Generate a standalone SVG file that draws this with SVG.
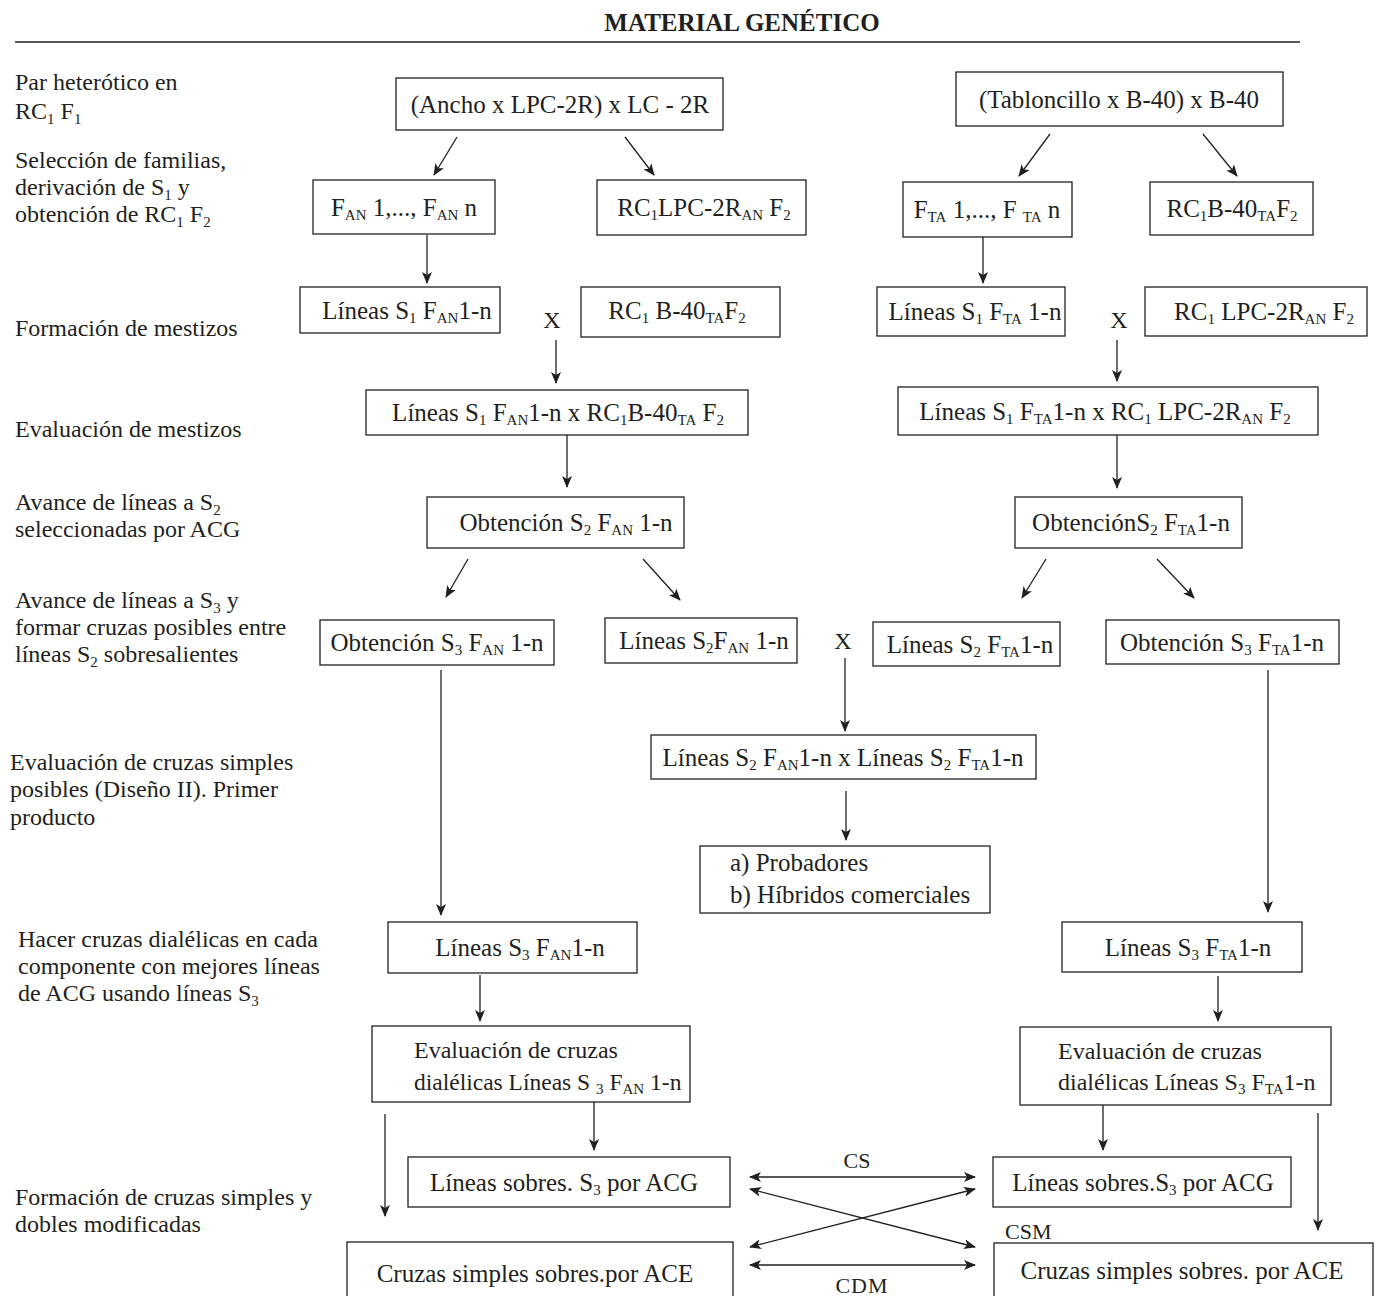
<svg xmlns="http://www.w3.org/2000/svg" width="1379" height="1296" viewBox="0 0 1379 1296">
<style>
text{font-family:"Liberation Serif","Times New Roman",serif;fill:#231f20}
.t{font-size:25px}
.e{font-size:24px}
.l{font-size:24px}
.c{text-anchor:middle}
.s{font-size:15px}
.m{font-size:22px}
rect{fill:#fff;stroke:#231f20;stroke-width:1.3}
line{stroke:#231f20;stroke-width:1.3}
</style>
<defs>
<marker id="ah" markerWidth="12" markerHeight="10" refX="11" refY="5" orient="auto" markerUnits="userSpaceOnUse">
<path d="M0,0 L12,5 L0,10 L3,5 Z" fill="#231f20"/>
</marker>
<marker id="as" markerWidth="12" markerHeight="10" refX="1" refY="5" orient="auto" markerUnits="userSpaceOnUse">
<path d="M12,0 L0,5 L12,10 L9,5 Z" fill="#231f20"/>
</marker>
</defs>
<rect x="0" y="0" width="1379" height="1296" style="stroke:none"/>

<g id="title">
<text x="742" y="31" class="c" style="font-size:25px;font-weight:bold">MATERIAL GENÉTICO</text>
<line x1="15" y1="42" x2="1300" y2="42"/>
</g>

<g id="labels">
<text x="15" y="90" class="l">Par heterótico en</text>
<text x="15" y="119" class="l">RC<tspan class="s" dy="5">1</tspan><tspan dy="-5"> F</tspan><tspan class="s" dy="5">1</tspan></text>
<text x="15" y="168" class="l">Selección de familias,</text>
<text x="15" y="195" class="l">derivación de S<tspan class="s" dy="5">1</tspan><tspan dy="-5"> y</tspan></text>
<text x="15" y="222" class="l">obtención de RC<tspan class="s" dy="5">1</tspan><tspan dy="-5"> F</tspan><tspan class="s" dy="5">2</tspan></text>
<text x="15" y="336" class="l">Formación de mestizos</text>
<text x="15" y="437" class="l">Evaluación de mestizos</text>
<text x="15" y="510" class="l">Avance de líneas a S<tspan class="s" dy="5">2</tspan></text>
<text x="15" y="537" class="l">seleccionadas por ACG</text>
<text x="15" y="608" class="l">Avance de líneas a S<tspan class="s" dy="5">3</tspan><tspan dy="-5"> y</tspan></text>
<text x="15" y="635" class="l">formar cruzas posibles entre</text>
<text x="15" y="662" class="l">líneas S<tspan class="s" dy="5">2</tspan><tspan dy="-5"> sobresalientes</tspan></text>
<text x="10" y="770" class="l">Evaluación de cruzas simples</text>
<text x="10" y="797" class="l">posibles (Diseño II). Primer</text>
<text x="10" y="825" class="l">producto</text>
<text x="18" y="947" class="l">Hacer cruzas dialélicas en cada</text>
<text x="18" y="974" class="l">componente con mejores líneas</text>
<text x="18" y="1001" class="l">de ACG usando líneas S<tspan class="s" dy="5">3</tspan></text>
<text x="15" y="1205" class="l">Formación de cruzas simples y</text>
<text x="15" y="1232" class="l">dobles modificadas</text>
</g>

<g id="connectors">
<line x1="457" y1="137" x2="434" y2="175" marker-end="url(#ah)"/>
<line x1="625" y1="137" x2="654" y2="175" marker-end="url(#ah)"/>
<line x1="1050" y1="134" x2="1019" y2="176" marker-end="url(#ah)"/>
<line x1="1203" y1="134" x2="1237" y2="176" marker-end="url(#ah)"/>
<line x1="427" y1="235" x2="427" y2="283" marker-end="url(#ah)"/>
<line x1="983" y1="237" x2="983" y2="283" marker-end="url(#ah)"/>
<line x1="556" y1="340" x2="556" y2="383" marker-end="url(#ah)"/>
<line x1="1117" y1="340" x2="1117" y2="381" marker-end="url(#ah)"/>
<line x1="567" y1="435" x2="567" y2="487" marker-end="url(#ah)"/>
<line x1="1117" y1="435" x2="1117" y2="488" marker-end="url(#ah)"/>
<line x1="468" y1="559" x2="446" y2="597" marker-end="url(#ah)"/>
<line x1="643" y1="559" x2="680" y2="600" marker-end="url(#ah)"/>
<line x1="1046" y1="559" x2="1022" y2="598" marker-end="url(#ah)"/>
<line x1="1157" y1="559" x2="1194" y2="598" marker-end="url(#ah)"/>
<line x1="845" y1="658" x2="845" y2="731" marker-end="url(#ah)"/>
<line x1="441" y1="670" x2="441" y2="915" marker-end="url(#ah)"/>
<line x1="1268" y1="670" x2="1268" y2="912" marker-end="url(#ah)"/>
<line x1="846" y1="791" x2="846" y2="840" marker-end="url(#ah)"/>
<line x1="480" y1="975" x2="480" y2="1021" marker-end="url(#ah)"/>
<line x1="1218" y1="976" x2="1218" y2="1021" marker-end="url(#ah)"/>
<line x1="594" y1="1102" x2="594" y2="1150" marker-end="url(#ah)"/>
<line x1="385" y1="1114" x2="385" y2="1216" marker-end="url(#ah)"/>
<line x1="1103" y1="1105" x2="1103" y2="1150" marker-end="url(#ah)"/>
<line x1="1318" y1="1113" x2="1318" y2="1230" marker-end="url(#ah)"/>
<line x1="750" y1="1177" x2="975" y2="1177" marker-start="url(#as)" marker-end="url(#ah)"/>
<line x1="750" y1="1189" x2="975" y2="1247" marker-start="url(#as)" marker-end="url(#ah)"/>
<line x1="750" y1="1247" x2="975" y2="1189" marker-start="url(#as)" marker-end="url(#ah)"/>
<line x1="750" y1="1265" x2="975" y2="1265" marker-start="url(#as)" marker-end="url(#ah)"/>
<text x="857" y="1168" class="m c">CS</text>
<text x="862" y="1293" class="m c" style="letter-spacing:1px">CDM</text>
<text x="1005" y="1239" class="m">CSM</text>
<text x="552" y="328" class="e c">X</text>
<text x="1119" y="328" class="e c">X</text>
<text x="843" y="649" class="e c">X</text>
</g>

<g id="n-a1"><rect x="396" y="78" width="327" height="52"/>
<text x="560" y="113" class="t c">(Ancho x LPC-2R) x LC - 2R</text></g>
<g id="n-b1"><rect x="956" y="72" width="327" height="54"/>
<text x="1119" y="108" class="t c">(Tabloncillo x B-40) x B-40</text></g>

<g id="n-fan"><rect x="313" y="180" width="182" height="54"/>
<text x="404" y="216" class="t c">F<tspan class="s" dy="4">AN</tspan><tspan dy="-4"> 1,..., F</tspan><tspan class="s" dy="4">AN</tspan><tspan dy="-4"> n</tspan></text></g>
<g id="n-rclpc"><rect x="597" y="180" width="209" height="55"/>
<text x="704" y="216" class="t c">RC<tspan class="s" dy="4">1</tspan><tspan dy="-4">LPC-2R</tspan><tspan class="s" dy="4">AN</tspan><tspan dy="-4"> F</tspan><tspan class="s" dy="4">2</tspan></text></g>
<g id="n-fta"><rect x="903" y="182" width="169" height="55"/>
<text x="987" y="218" class="t c">F<tspan class="s" dy="4">TA</tspan><tspan dy="-4"> 1,..., F </tspan><tspan class="s" dy="4">TA</tspan><tspan dy="-4"> n</tspan></text></g>
<g id="n-rcb40"><rect x="1150" y="182" width="163" height="53"/>
<text x="1232" y="217" class="t c">RC<tspan class="s" dy="4">1</tspan><tspan dy="-4">B-40</tspan><tspan class="s" dy="4">TA</tspan><tspan dy="-4">F</tspan><tspan class="s" dy="4">2</tspan></text></g>

<g id="n-s1an"><rect x="300" y="287" width="200" height="46"/>
<text x="407" y="319" class="t c">Líneas S<tspan class="s" dy="4">1</tspan><tspan dy="-4"> F</tspan><tspan class="s" dy="4">AN</tspan><tspan dy="-4">1-n</tspan></text></g>
<g id="n-rcb40b"><rect x="581" y="287" width="199" height="50"/>
<text x="677" y="319" class="t c">RC<tspan class="s" dy="4">1</tspan><tspan dy="-4"> B-40</tspan><tspan class="s" dy="4">TA</tspan><tspan dy="-4">F</tspan><tspan class="s" dy="4">2</tspan></text></g>
<g id="n-s1ta"><rect x="877" y="287" width="188" height="49"/>
<text x="975" y="320" class="t c">Líneas S<tspan class="s" dy="4">1</tspan><tspan dy="-4"> F</tspan><tspan class="s" dy="4">TA</tspan><tspan dy="-4"> 1-n</tspan></text></g>
<g id="n-rclpcb"><rect x="1145" y="287" width="222" height="49"/>
<text x="1264" y="320" class="t c">RC<tspan class="s" dy="4">1</tspan><tspan dy="-4"> LPC-2R</tspan><tspan class="s" dy="4">AN</tspan><tspan dy="-4">  F</tspan><tspan class="s" dy="4">2</tspan></text></g>

<g id="n-mest-an"><rect x="366" y="390" width="382" height="45"/>
<text x="558" y="421" class="t c">Líneas S<tspan class="s" dy="4">1</tspan><tspan dy="-4">  F</tspan><tspan class="s" dy="4">AN</tspan><tspan dy="-4">1-n  x RC</tspan><tspan class="s" dy="4">1</tspan><tspan dy="-4">B-40</tspan><tspan class="s" dy="4">TA</tspan><tspan dy="-4">  F</tspan><tspan class="s" dy="4">2</tspan></text></g>
<g id="n-mest-ta"><rect x="898" y="387" width="420" height="48"/>
<text x="1105" y="420" class="t c">Líneas S<tspan class="s" dy="4">1</tspan><tspan dy="-4"> F</tspan><tspan class="s" dy="4">TA</tspan><tspan dy="-4">1-n  x RC</tspan><tspan class="s" dy="4">1</tspan><tspan dy="-4">  LPC-2R</tspan><tspan class="s" dy="4">AN</tspan><tspan dy="-4"> F</tspan><tspan class="s" dy="4">2</tspan></text></g>

<g id="n-s2an"><rect x="427" y="497" width="257" height="51"/>
<text x="566" y="531" class="t c">Obtención S<tspan class="s" dy="4">2</tspan><tspan dy="-4"> F</tspan><tspan class="s" dy="4">AN</tspan><tspan dy="-4"> 1-n</tspan></text></g>
<g id="n-s2ta"><rect x="1015" y="497" width="227" height="51"/>
<text x="1131" y="531" class="t c">ObtenciónS<tspan class="s" dy="4">2</tspan><tspan dy="-4"> F</tspan><tspan class="s" dy="4">TA</tspan><tspan dy="-4">1-n</tspan></text></g>

<g id="n-s3an"><rect x="320" y="620" width="234" height="45"/>
<text x="437" y="651" class="t c">Obtención S<tspan class="s" dy="4">3</tspan><tspan dy="-4"> F</tspan><tspan class="s" dy="4">AN</tspan><tspan dy="-4"> 1-n</tspan></text></g>
<g id="n-l2an"><rect x="605" y="618" width="192" height="45"/>
<text x="704" y="649" class="t c">Líneas S<tspan class="s" dy="4">2</tspan><tspan dy="-4">F</tspan><tspan class="s" dy="4">AN</tspan><tspan dy="-4"> 1-n</tspan></text></g>
<g id="n-l2ta"><rect x="873" y="622" width="187" height="44"/>
<text x="970" y="653" class="t c">Líneas S<tspan class="s" dy="4">2</tspan><tspan dy="-4"> F</tspan><tspan class="s" dy="4">TA</tspan><tspan dy="-4">1-n</tspan></text></g>
<g id="n-s3ta"><rect x="1106" y="620" width="233" height="44"/>
<text x="1222" y="651" class="t c">Obtención S<tspan class="s" dy="4">3</tspan><tspan dy="-4"> F</tspan><tspan class="s" dy="4">TA</tspan><tspan dy="-4">1-n</tspan></text></g>

<g id="n-cross"><rect x="651" y="735" width="385" height="44"/>
<text x="843" y="766" class="t c">Líneas S<tspan class="s" dy="4">2</tspan><tspan dy="-4"> F</tspan><tspan class="s" dy="4">AN</tspan><tspan dy="-4">1-n x Líneas S</tspan><tspan class="s" dy="4">2</tspan><tspan dy="-4"> F</tspan><tspan class="s" dy="4">TA</tspan><tspan dy="-4">1-n</tspan></text></g>
<g id="n-prob"><rect x="700" y="846" width="290" height="67"/>
<text x="730" y="871" class="t">a) Probadores</text>
<text x="730" y="903" class="t">b) Híbridos comerciales</text></g>

<g id="n-l3an"><rect x="388" y="922" width="249" height="51"/>
<text x="520" y="956" class="t c">Líneas S<tspan class="s" dy="4">3</tspan><tspan dy="-4"> F</tspan><tspan class="s" dy="4">AN</tspan><tspan dy="-4">1-n</tspan></text></g>
<g id="n-l3ta"><rect x="1062" y="922" width="240" height="50"/>
<text x="1188" y="956" class="t c">Líneas S<tspan class="s" dy="4">3</tspan><tspan dy="-4"> F</tspan><tspan class="s" dy="4">TA</tspan><tspan dy="-4">1-n</tspan></text></g>

<g id="n-evan"><rect x="372" y="1026" width="318" height="76"/>
<text x="414" y="1058" class="e">Evaluación de cruzas</text>
<text x="414" y="1090" class="e" style="font-size:23.5px">dialélicas Líneas S <tspan class="s" dy="4">3</tspan><tspan dy="-4"> F</tspan><tspan class="s" dy="4">AN</tspan><tspan dy="-4"> 1-n</tspan></text></g>
<g id="n-evta"><rect x="1020" y="1027" width="311" height="78"/>
<text x="1058" y="1059" class="e">Evaluación de cruzas</text>
<text x="1058" y="1090" class="e">dialélicas Líneas S<tspan class="s" dy="4">3</tspan><tspan dy="-4"> F</tspan><tspan class="s" dy="4">TA</tspan><tspan dy="-4">1-n</tspan></text></g>

<g id="n-sobre-an"><rect x="408" y="1157" width="322" height="50"/>
<text x="564" y="1191" class="t c">Líneas sobres. S<tspan class="s" dy="4">3</tspan><tspan dy="-4"> por ACG</tspan></text></g>
<g id="n-sobre-ta"><rect x="993" y="1157" width="298" height="50"/>
<text x="1143" y="1191" class="t c">Líneas sobres.S<tspan class="s" dy="4">3</tspan><tspan dy="-4"> por ACG</tspan></text></g>

<g id="n-ace-an"><rect x="347" y="1242" width="386" height="60"/>
<text x="535" y="1282" class="t c">Cruzas simples sobres.por ACE</text></g>
<g id="n-ace-ta"><rect x="994" y="1243" width="379" height="60"/>
<text x="1182" y="1279" class="t c">Cruzas simples sobres. por ACE</text></g>
</svg>
